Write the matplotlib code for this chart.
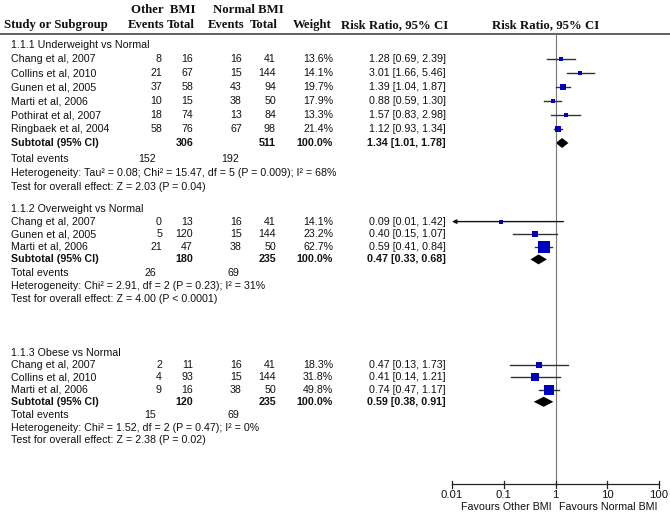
import numpy as np
import matplotlib
matplotlib.use("Agg")
import matplotlib.pyplot as plt
from matplotlib.patches import Polygon

# ---------------------------------------------------------------- data
study = ["Chang et al, 2007", "Collins et al, 2010", "Gunen et al, 2005",
         "Marti et al, 2006", "Pothirat et al, 2007", "Ringbaek et al, 2004",
         "Chang et al, 2007", "Gunen et al, 2005", "Marti et al, 2006",
         "Chang et al, 2007", "Collins et al, 2010", "Marti et al, 2006"]
group_of = [0, 0, 0, 0, 0, 0, 1, 1, 1, 2, 2, 2]
ev_other = [8, 21, 37, 10, 18, 58, 0, 5, 21, 2, 4, 9]
tot_other = [16, 67, 58, 15, 74, 76, 13, 120, 47, 11, 93, 16]
ev_norm = [16, 15, 43, 38, 13, 67, 16, 15, 38, 16, 15, 38]
tot_norm = [41, 144, 94, 50, 84, 98, 41, 144, 50, 41, 144, 50]
weight = [13.6, 14.1, 19.7, 17.9, 13.3, 21.4, 14.1, 23.2, 62.7, 18.3, 31.8, 49.8]
rr = [1.28, 3.01, 1.39, 0.88, 1.57, 1.12, 0.09, 0.40, 0.59, 0.47, 0.41, 0.74]
rr_lo = [0.69, 1.66, 1.04, 0.59, 0.83, 0.93, 0.01, 0.15, 0.41, 0.13, 0.14, 0.47]
rr_hi = [2.39, 5.46, 1.87, 1.30, 2.98, 1.34, 1.42, 1.07, 0.84, 1.73, 1.21, 1.17]

sub_title = ["1.1.1 Underweight vs Normal", "1.1.2 Overweight vs Normal",
             "1.1.3 Obese vs Normal"]
sub_tot_other = [306, 180, 120]
sub_tot_norm = [511, 235, 235]
sub_ev_other = [152, 26, 15]
sub_ev_norm = [192, 69, 69]
sub_rr = [1.34, 0.47, 0.59]
sub_lo = [1.01, 0.33, 0.38]
sub_hi = [1.78, 0.68, 0.91]
sub_het = ["Heterogeneity: Tau\u00b2 = 0.08; Chi\u00b2 = 15.47, df = 5 (P = 0.009); I\u00b2 = 68%",
           "Heterogeneity: Chi\u00b2 = 2.91, df = 2 (P = 0.23); I\u00b2 = 31%",
           "Heterogeneity: Chi\u00b2 = 1.52, df = 2 (P = 0.47); I\u00b2 = 0%"]
sub_test = ["Test for overall effect: Z = 2.03 (P = 0.04)",
            "Test for overall effect: Z = 4.00 (P < 0.0001)",
            "Test for overall effect: Z = 2.38 (P = 0.02)"]

x_ticks = [0.01, 0.1, 1, 10, 100]
x_ticklabels = ["0.01", "0.1", "1", "10", "100"]

# ---------------------------------------------------------------- layout (pixels)
W, H = 670, 516
SANS = "Liberation Sans"
SERIF = "Liberation Serif"
FS = 7.7
HFS = 9.2
TXT = "#111111"
block_y0 = [45, 209, 353]     # y of subgroup title
block_step = [14.0, 12.6, 12.2]
col_ev_o, col_tot_o, col_ev_n, col_tot_n, col_w, col_rr = 162, 193, 242, 276, 333, 446

fig = plt.figure(figsize=(W / 100, H / 100), dpi=100)
ax = fig.add_axes([0, 0, 1, 1])
ax.set_xlim(0, W)
ax.set_ylim(H, 0)
ax.axis("off")

# forest axis: log scale, 0.01 -> x=452 px, 100 -> x=659 px
fx = fig.add_axes([452 / W, 0, 207 / W, 1])
fx.set_xscale("log")
fx.set_xlim(0.01, 100)
fx.set_ylim(H, 0)
fx.axis("off")
fx.patch.set_alpha(0)


def txt(x, y, s, ha="left", bold=False, **kw):
    ax.text(x, y, s, ha=ha, va="center", fontsize=FS, family=SANS,
            fontweight="bold" if bold else "normal", color=TXT, **kw)


# header
hkw = dict(family=SERIF, fontweight="bold", fontsize=HFS, va="center", color=TXT)
ax.text(163, 10, "Other  BMI", ha="center", **hkw)
ax.text(248, 10, "Normal BMI", ha="center", **hkw)
ax.text(4, 25, "Study or Subgroup", ha="left", **hkw)
for x, s in [(col_ev_o + 2, "Events"), (col_tot_o + 2, "Total"),
             (col_ev_n + 2, "Events"), (col_tot_n + 2, "Total"), (col_w - 1, "Weight"),
             (col_rr + 2, "Risk Ratio, 95% CI")]:
    ax.text(x, 25, s, ha="right", **hkw)
ax.text(546, 25, "Risk Ratio, 95% CI", ha="center", **hkw)
ax.plot([0, W], [34, 34], color="#555555", lw=1.3)

# no-effect line and bottom axis
AXIS_Y = 484
fx.plot([1, 1], [34, AXIS_Y], color="#777777", lw=0.8)
fx.plot([x_ticks[0], x_ticks[-1]], [AXIS_Y, AXIS_Y], color="#222222", lw=0.9, clip_on=False)
for t, lab in zip(x_ticks, x_ticklabels):
    fx.plot([t, t], [AXIS_Y - 3.5, AXIS_Y + 3.5], color="#222222", lw=0.9, clip_on=False)
    fx.text(t, 495, lab, ha="center", va="center", fontsize=FS + 0.4,
            family=SANS, color=TXT, clip_on=False)
ax.text(552, 507, "Favours Other BMI", ha="right", va="center", fontsize=FS,
        family=SANS, color=TXT)
ax.text(559, 507, "Favours Normal BMI", ha="left", va="center", fontsize=FS,
        family=SANS, color=TXT)

# rows
idx = np.arange(len(study))
for g in range(len(sub_title)):
    y0, st = block_y0[g], block_step[g]
    members = idx[np.array(group_of) == g]
    txt(11, y0, sub_title[g])
    for k, i in enumerate(members):
        y = y0 + (k + 1) * st
        txt(11, y, study[i])
        txt(col_ev_o, y, str(ev_other[i]), ha="right")
        txt(col_tot_o, y, str(tot_other[i]), ha="right")
        txt(col_ev_n, y, str(ev_norm[i]), ha="right")
        txt(col_tot_n, y, str(tot_norm[i]), ha="right")
        txt(col_w, y, f"{weight[i]:.1f}%", ha="right")
        txt(col_rr, y, f"{rr[i]:.2f} [{rr_lo[i]:.2f}, {rr_hi[i]:.2f}]", ha="right")
        # CI line (arrow if it runs off the scale)
        if rr_lo[i] <= x_ticks[0]:
            fx.annotate("", xy=(x_ticks[0], y), xytext=(rr_hi[i], y),
                        arrowprops=dict(arrowstyle="-|>", color="#111111", lw=1.0,
                                        mutation_scale=6, shrinkA=0, shrinkB=0))
        else:
            fx.plot([rr_lo[i], rr_hi[i]], [y, y], color="#333333", lw=1.0)
        side = (0.15 * weight[i] + 2.3) * 0.72
        fx.plot(rr[i], y, marker="s", ms=side, mew=0, color="#0000C0")
    n = len(members)
    ys = y0 + (n + 1) * st
    txt(11, ys, "Subtotal (95% CI)", bold=True)
    txt(col_tot_o, ys, str(sub_tot_other[g]), ha="right", bold=True)
    txt(col_tot_n, ys, str(sub_tot_norm[g]), ha="right", bold=True)
    txt(col_w, ys, "100.0%", ha="right", bold=True)
    txt(col_rr, ys, f"{sub_rr[g]:.2f} [{sub_lo[g]:.2f}, {sub_hi[g]:.2f}]",
        ha="right", bold=True)
    dh = 5.0
    fx.add_patch(Polygon([(sub_lo[g], ys), (sub_rr[g], ys - dh),
                          (sub_hi[g], ys), (sub_rr[g], ys + dh)],
                         closed=True, color="black", lw=0))
    yt = ys + st + 1.5
    txt(11, yt, "Total events")
    txt(col_ev_o - 6, yt, str(sub_ev_other[g]), ha="right")
    txt(col_ev_n - 3, yt, str(sub_ev_norm[g]), ha="right")
    txt(11, yt + st, sub_het[g])
    txt(11, yt + 2 * st, sub_test[g])

fig.savefig("out.png", dpi=100)
plt.close(fig)
